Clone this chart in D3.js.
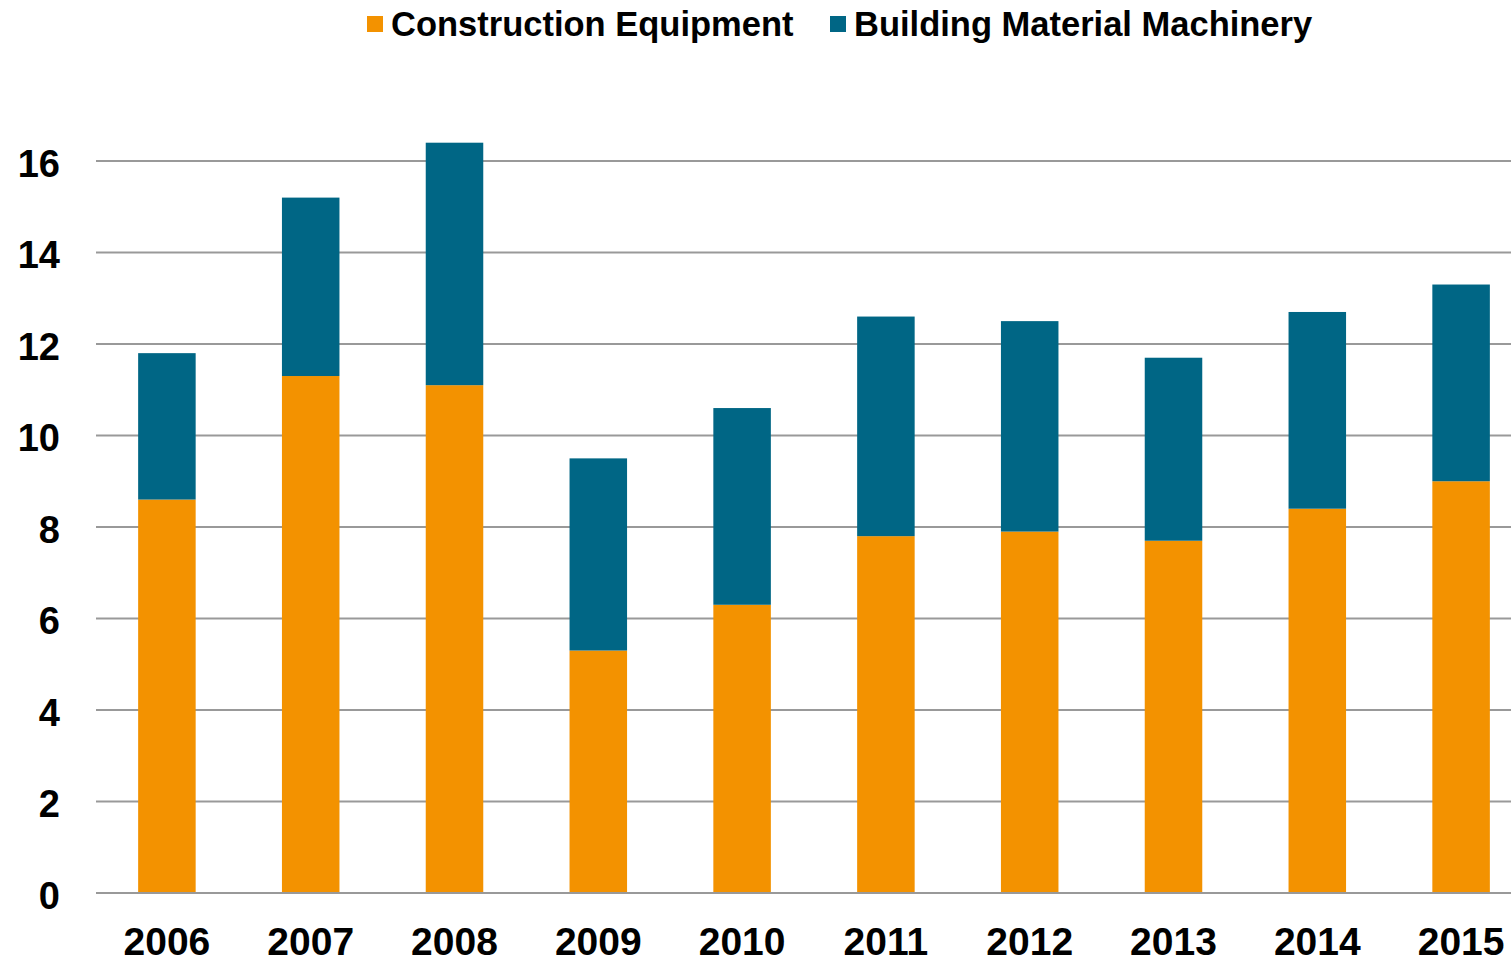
<!DOCTYPE html>
<html>
<head>
<meta charset="utf-8">
<script src="https://cdn.jsdelivr.net/npm/d3@7"></script>
<style>
  body { margin: 0; background: white; }
  text { font-family: "Liberation Sans", Arial, sans-serif; font-weight: bold; fill: #000; }
</style>
</head>
<body>
<script>
var years = ["2006", "2007", "2008", "2009", "2010", "2011", "2012", "2013", "2014", "2015"]
var construction = [8.6, 11.3, 11.1, 5.3, 6.3, 7.8, 7.9, 7.7, 8.4, 9.0]
var buildingMaterial = [3.2, 3.9, 5.3, 4.2, 4.3, 4.8, 4.6, 4.0, 4.3, 4.3]
var seriesNames = ["Construction Equipment", "Building Material Machinery"]
var yTicks = [0, 2, 4, 6, 8, 10, 12, 14, 16]

var orange = "#F39200"
var blue = "#006685"
var gridColor = "#999999"

var width = 1511
var height = 960

var svg = d3.select("body")
    .append("svg")
    .attr("width", width)
    .attr("height", height)

var x = d3.scaleBand()
    .domain(years)
    .range([95, 1533])
    .paddingInner(0.6)
    .paddingOuter(0.3)

var y = d3.scaleLinear()
    .domain([0, 16])
    .range([893, 161])

// gridlines
svg.selectAll(".grid")
    .data(yTicks)
    .enter()
    .append("line")
    .attr("x1", 96)
    .attr("x2", width)
    .attr("y1", d => y(d))
    .attr("y2", d => y(d))
    .attr("stroke", gridColor)
    .attr("stroke-width", 2)

// y labels
svg.selectAll(".ylab")
    .data(yTicks)
    .enter()
    .append("text")
    .attr("x", 60)
    .attr("y", d => y(d))
    .attr("dy", "0.42em")
    .attr("text-anchor", "end")
    .style("font-size", "38px")
    .text(d => d)

var rows = years.map((yr, i) => ({ year: yr, c: construction[i], b: buildingMaterial[i] }))

var stack = d3.stack().keys(["c", "b"])(rows)
var colors = [orange, blue]

svg.selectAll(".series")
    .data(stack)
    .enter()
    .append("g")
    .attr("fill", (d, i) => colors[i])
    .selectAll("rect")
    .data(d => d)
    .enter()
    .append("rect")
    .attr("x", d => x(d.data.year))
    .attr("width", x.bandwidth())
    .attr("y", d => y(d[1]))
    .attr("height", d => y(d[0]) - y(d[1]))

// redraw baseline over bars
svg.append("line")
    .attr("x1", 96)
    .attr("x2", width)
    .attr("y1", y(0))
    .attr("y2", y(0))
    .attr("stroke", gridColor)
    .attr("stroke-width", 2)

// x labels
svg.selectAll(".xlab")
    .data(years)
    .enter()
    .append("text")
    .attr("x", d => x(d) + x.bandwidth() / 2)
    .attr("y", 955)
    .attr("text-anchor", "middle")
    .style("font-size", "39px")
    .text(d => d)

// legend
var legendPos = [367, 830]
var legend = svg.selectAll(".legend")
    .data(seriesNames)
    .enter()
    .append("g")
    .attr("transform", (d, i) => "translate(" + legendPos[i] + ",0)")

legend.append("rect")
    .attr("x", 0)
    .attr("y", 16)
    .attr("width", 16)
    .attr("height", 16)
    .attr("fill", (d, i) => colors[i])

legend.append("text")
    .attr("x", 24)
    .attr("y", 36)
    .style("font-size", "34.5px")
    .text(d => d)
</script>
</body>
</html>
